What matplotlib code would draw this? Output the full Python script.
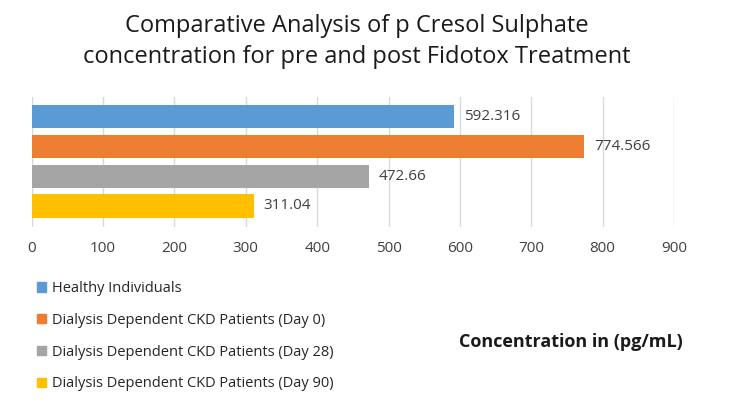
import matplotlib.pyplot as plt
from matplotlib.patches import Patch

plt.rcParams['font.family'] = ['Open Sans', 'DejaVu Sans']

groups = ['Healthy Individuals',
          'Dialysis Dependent CKD Patients (Day 0)',
          'Dialysis Dependent CKD Patients (Day 28)',
          'Dialysis Dependent CKD Patients (Day 90)']
values = [592.316, 774.566, 472.66, 311.04]
value_labels = ['592.316', '774.566', '472.66', '311.04']
colors = ['#5b9bd5', '#ed7d31', '#a5a5a5', '#ffc000']
ticks = [0, 100, 200, 300, 400, 500, 600, 700, 800, 900]

fig = plt.figure(figsize=(7.29, 4.17), dpi=100)
ax = fig.add_axes([0.0435, 0.456, 0.881, 0.311])

ypos = [3, 2, 1, 0]
ax.barh(ypos, values, height=0.78, color=colors, zorder=2)
for y, v, lab in zip(ypos, values, value_labels):
    ax.annotate(lab, (v, y), xytext=(7, 0), textcoords='offset points',
                va='center', ha='left', fontsize=11, color='#404040')

ax.set_xlim(0, 900)
ax.set_ylim(-0.70, 3.65)
ax.set_xticks(ticks)
ax.set_yticks([])
ax.grid(axis='x', color='#d9d9d9', lw=1, zorder=0)
for s in ax.spines.values():
    s.set_visible(False)
ax.tick_params(axis='x', length=0, labelsize=11, labelcolor='#404040', pad=10)

fig.text(0.49, 0.967, 'Comparative Analysis of p Cresol Sulphate\nconcentration for pre and post Fidotox Treatment',
         ha='center', va='top', fontsize=17, color='#1a1a1a', linespacing=1.4)

handles = [Patch(color=c) for c in colors]
fig.legend(handles, groups, loc='upper left', bbox_to_anchor=(0.043, 0.34),
           frameon=False, fontsize=10.5, handlelength=0.6, handleheight=0.6,
           handletextpad=0.4, labelspacing=1.15, borderaxespad=0,
           labelcolor='#262626')

fig.text(0.937, 0.18, 'Concentration in (pg/mL)', ha='right', va='center',
         fontsize=13, fontweight='bold', color='#1a1a1a')

fig.savefig('out.png', dpi=100)
